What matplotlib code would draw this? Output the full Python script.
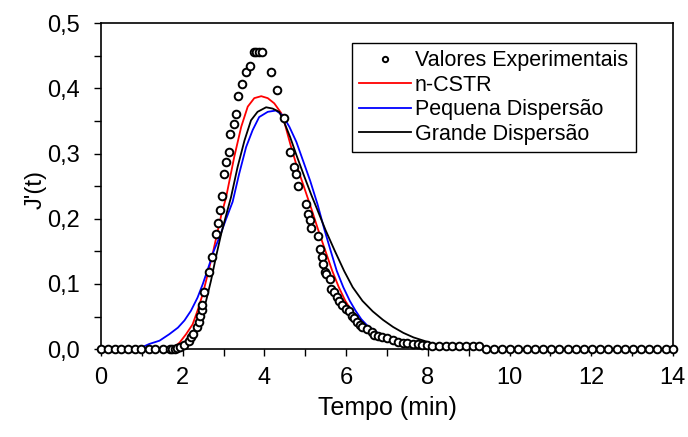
import numpy as np
import matplotlib
matplotlib.use("Agg")
import matplotlib.pyplot as plt
from matplotlib.ticker import MultipleLocator, FuncFormatter

# experimental points (Tempo in min, J'(t))
t_exp = [0.0, 0.16, 0.33, 0.49, 0.65, 0.82, 0.98, 1.17, 1.33, 1.51, 1.68,
         1.74, 1.80, 1.86, 1.92, 2.04, 2.14, 2.20, 2.25, 2.34, 2.39, 2.43,
         2.46, 2.48, 2.53, 2.63, 2.71, 2.81, 2.87, 2.92, 2.97, 3.02, 3.06,
         3.12, 3.16, 3.26, 3.30, 3.35, 3.46, 3.55, 3.65, 3.74, 3.80, 3.86,
         3.94, 4.15, 4.30, 4.49, 4.63, 4.73, 4.77, 4.83, 5.02, 5.06, 5.11,
         5.15, 5.32, 5.36, 5.40, 5.43, 5.47, 5.51, 5.60, 5.64, 5.71, 5.78,
         5.83, 5.91, 5.99, 6.06, 6.14, 6.20, 6.26, 6.34, 6.40, 6.52, 6.63,
         6.69, 6.79, 6.87, 6.99, 7.15, 7.28, 7.40, 7.50, 7.63, 7.75, 7.86,
         7.97, 8.11, 8.28, 8.44, 8.60, 8.77, 8.93, 9.10, 9.26,
         9.42, 9.62, 9.82, 10.02, 10.22, 10.42, 10.62, 10.82, 11.02, 11.22,
         11.42, 11.62, 11.82, 12.02, 12.22, 12.42, 12.62, 12.82, 13.02,
         13.22, 13.42, 13.62, 13.82, 14.0]
j_exp = [0.0, 0.0, 0.0, 0.0, 0.0, 0.0, 0.0, 0.0, 0.0, 0.0, 0.0,
         0.0, 0.001, 0.002, 0.003, 0.007, 0.013, 0.019, 0.024, 0.034, 0.042, 0.051,
         0.060, 0.068, 0.087, 0.118, 0.142, 0.176, 0.194, 0.214, 0.235, 0.268, 0.287,
         0.302, 0.330, 0.345, 0.360, 0.389, 0.407, 0.425, 0.435, 0.456, 0.456, 0.456,
         0.456, 0.425, 0.397, 0.354, 0.302, 0.280, 0.268, 0.250, 0.222, 0.207, 0.198,
         0.186, 0.173, 0.154, 0.141, 0.131, 0.118, 0.116, 0.108, 0.093, 0.087, 0.080,
         0.074, 0.068, 0.062, 0.058, 0.051, 0.048, 0.042, 0.037, 0.034, 0.031, 0.026,
         0.022, 0.020, 0.019, 0.017, 0.014, 0.011, 0.010, 0.009, 0.008, 0.008, 0.007,
         0.006, 0.005, 0.005, 0.005, 0.005, 0.005, 0.005, 0.005, 0.005,
         0.0, 0.0, 0.0, 0.0, 0.0, 0.0, 0.0, 0.0, 0.0, 0.0,
         0.0, 0.0, 0.0, 0.0, 0.0, 0.0, 0.0, 0.0, 0.0,
         0.0, 0.0, 0.0, 0.0, 0.0]

# n-CSTR model
t_cstr = [0.0, 1.65, 1.75, 1.92, 2.08, 2.24, 2.36, 2.49, 2.61, 2.73, 2.85,
          2.94, 3.06, 3.26, 3.43, 3.59, 3.75, 3.92, 4.08, 4.24, 4.41, 4.50,
          4.63, 4.78, 4.95, 5.15, 5.32, 5.49, 5.66, 5.82, 5.98, 6.13, 6.30,
          6.46, 6.75, 7.0, 7.3, 7.6, 8.0, 8.5, 14.0]
j_cstr = [0.0, 0.0, 0.001, 0.010, 0.023, 0.038, 0.059, 0.085, 0.115, 0.146, 0.180,
          0.205, 0.233, 0.295, 0.341, 0.372, 0.385, 0.388, 0.385, 0.377, 0.362, 0.345,
          0.315, 0.283, 0.252, 0.215, 0.182, 0.151, 0.120, 0.095, 0.074, 0.059, 0.046,
          0.036, 0.025, 0.018, 0.010, 0.005, 0.002, 0.0, 0.0]

# small dispersion model
t_peq = [0.0, 0.9, 1.18, 1.43, 1.67, 1.88, 2.04, 2.20, 2.36, 2.49, 2.63,
         2.76, 2.90, 3.05, 3.22, 3.38, 3.55, 3.71, 3.87, 4.08, 4.28, 4.44,
         4.61, 4.78, 4.95, 5.12, 5.30, 5.46, 5.62, 5.77, 5.93, 6.09, 6.23,
         6.37, 6.52, 6.75, 7.0, 7.3, 7.6, 8.0, 8.7, 14.0]
j_peq = [0.0, 0.0, 0.008, 0.013, 0.023, 0.033, 0.044, 0.059, 0.079, 0.100, 0.126,
         0.151, 0.172, 0.198, 0.226, 0.269, 0.310, 0.336, 0.356, 0.364, 0.366, 0.359,
         0.341, 0.318, 0.288, 0.258, 0.222, 0.185, 0.151, 0.120, 0.095, 0.074, 0.059,
         0.046, 0.036, 0.026, 0.018, 0.010, 0.005, 0.002, 0.0, 0.0]

# large dispersion model
t_gra = [0.0, 1.75, 1.90, 2.08, 2.28, 2.45, 2.57, 2.69, 2.81, 2.94, 3.08,
         3.18, 3.34, 3.51, 3.67, 3.83, 4.04, 4.20, 4.36, 4.47, 4.63, 4.78,
         4.98, 5.15, 5.30, 5.50, 5.72, 5.95, 6.16, 6.40, 6.65, 6.90, 7.15,
         7.40, 7.65, 7.90, 8.15, 8.45, 8.80, 9.20, 14.0]
j_gra = [0.0, 0.0, 0.004, 0.013, 0.028, 0.049, 0.074, 0.105, 0.141, 0.177, 0.210,
         0.233, 0.279, 0.320, 0.351, 0.364, 0.371, 0.369, 0.364, 0.350, 0.325, 0.298,
         0.264, 0.236, 0.213, 0.182, 0.151, 0.120, 0.095, 0.074, 0.058, 0.045, 0.034,
         0.025, 0.018, 0.013, 0.008, 0.004, 0.001, 0.0, 0.0]

plt.rcParams["font.family"] = ["Liberation Sans", "DejaVu Sans"]

fig = plt.figure(figsize=(6.88, 4.37), dpi=100)
ax = fig.add_axes([0.147, 0.201, 0.831, 0.746])

ax.plot(t_cstr, j_cstr, color="#ff0000", lw=1.3, label="n-CSTR", zorder=2)
ax.plot(t_peq, j_peq, color="#0000ff", lw=1.3, label="Pequena Dispersão", zorder=2)
ax.plot(t_gra, j_gra, color="black", lw=1.3, label="Grande Dispersão", zorder=2)
ax.plot(t_exp, j_exp, ls="none", marker="o", ms=5.5, mfc="white", mec="black",
        mew=1.4, label="Valores Experimentais", zorder=3, clip_on=False)

ax.set_xlim(0, 14)
ax.set_ylim(0, 0.5)
ax.xaxis.set_major_locator(MultipleLocator(2))
ax.xaxis.set_minor_locator(MultipleLocator(1))
ax.yaxis.set_major_locator(MultipleLocator(0.1))
ax.yaxis.set_minor_locator(MultipleLocator(0.05))
ax.yaxis.set_major_formatter(FuncFormatter(lambda v, p: f"{v:.1f}".replace(".", ",")))
ax.tick_params(which="both", direction="out", length=5, width=1, labelsize=17)
ax.tick_params(axis="x", pad=8)
ax.tick_params(axis="y", pad=10)
for s in ax.spines.values():
    s.set_linewidth(1.2)

ax.set_xlabel("Tempo (min)", fontsize=18)
ax.set_ylabel("J'(t)", fontsize=17)
ax.xaxis.set_label_coords(0.5, -0.145)
ax.yaxis.set_label_coords(-0.095, 0.49)

h, l = ax.get_legend_handles_labels()
order = [3, 0, 1, 2]
leg = ax.legend([h[i] for i in order], [l[i] for i in order],
                loc="upper left", bbox_to_anchor=(0.438, 0.94),
                fontsize=15.5, frameon=True, fancybox=False, framealpha=1,
                edgecolor="black", handlelength=2.4, handletextpad=0.2,
                labelspacing=0.16, borderpad=0.35, markerscale=0.7,
                borderaxespad=0)
leg.get_frame().set_linewidth(1.0)

fig.savefig("out.png", dpi=100)
